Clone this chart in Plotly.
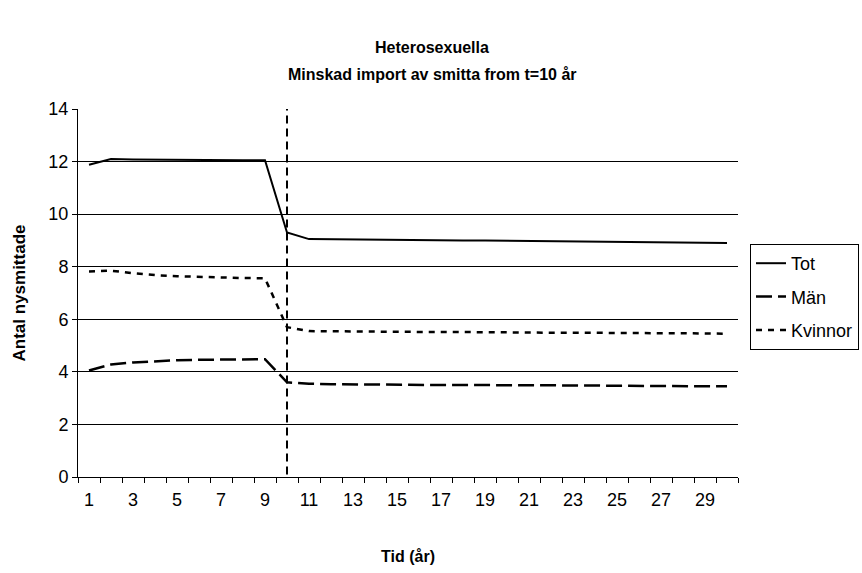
import plotly.graph_objects as go

years = list(range(1, 31))
tot = [11.88, 12.1, 12.08, 12.07, 12.06, 12.05, 12.05, 12.05, 12.05, 9.3,
       9.05, 9.04, 9.04, 9.03, 9.02, 9.02, 9.01, 9.0, 9.0, 8.99,
       8.98, 8.98, 8.97, 8.96, 8.96, 8.95, 8.94, 8.93, 8.92, 8.9]
man = [4.05, 4.28, 4.36, 4.41, 4.44, 4.46, 4.47, 4.48, 4.48, 3.6,
       3.55, 3.53, 3.52, 3.52, 3.51, 3.51, 3.5, 3.5, 3.5, 3.49,
       3.49, 3.48, 3.48, 3.48, 3.47, 3.47, 3.46, 3.46, 3.46, 3.45]
kvinnor = [7.82, 7.85, 7.75, 7.68, 7.64, 7.61, 7.58, 7.57, 7.56, 5.7,
           5.55, 5.54, 5.54, 5.53, 5.53, 5.52, 5.52, 5.51, 5.51, 5.5,
           5.5, 5.49, 5.49, 5.48, 5.48, 5.48, 5.47, 5.47, 5.46, 5.45]
xtick_vals = list(range(1, 30, 2))
ytick_vals = list(range(0, 15, 2))
cut_year = 10

font = "Liberation Sans, Arial, sans-serif"

fig = go.Figure()
fig.add_trace(go.Scatter(x=years, y=tot, mode="lines", name="Tot", legendgroup="a",
                         line=dict(color="black", width=2)))
fig.add_trace(go.Scatter(x=years, y=man, mode="lines", name="Män", legendgroup="b",
                         line=dict(color="black", width=2.5, dash="16px,6px")))
fig.add_trace(go.Scatter(x=years, y=kvinnor, mode="lines", name="Kvinnor", legendgroup="c",
                         line=dict(color="black", width=2.5, dash="6px,6px")))

fig.add_shape(type="line", xref="x", yref="y", x0=cut_year, x1=cut_year,
              y0=-0.4, y1=14.15, line=dict(color="black", width=2, dash="8px,5px"))

fig.add_annotation(text="<b>Heterosexuella</b>", xref="paper", yref="paper",
                   x=(432 - 78) / 660, y=(477 - 47) / 368, showarrow=False,
                   font=dict(family=font, size=16, color="black"), yanchor="middle")
fig.add_annotation(text="<b>Minskad import av smitta from t=10 år</b>", xref="paper", yref="paper",
                   x=(432 - 78) / 660, y=(477 - 75) / 368, showarrow=False,
                   font=dict(family=font, size=16, color="black"), yanchor="middle")

fig.update_layout(
    width=862, height=573,
    margin=dict(l=78, r=124, t=109, b=96, autoexpand=False),
    plot_bgcolor="white", paper_bgcolor="white",
    font=dict(family=font, size=18, color="black"),
    showlegend=True,
    legend=dict(x=(750 - 78) / 660, y=(477 - 244) / 368, xanchor="left", yanchor="top",
                bordercolor="black", borderwidth=1, bgcolor="white",
                font=dict(size=18), tracegroupgap=7, itemwidth=30),
    xaxis=dict(range=[0.5, 30.5], tickmode="array", tickvals=xtick_vals,
               ticks="", showgrid=False, zeroline=False,
               showline=True, linecolor="black", linewidth=1,
               tickfont=dict(size=18), ticklabelstandoff=6,
               minor=dict(tick0=0.5, dtick=1, ticks="outside", ticklen=5,
                          tickcolor="black", showgrid=False),
               title=dict(text="<b>Tid (år)</b>", font=dict(size=16), standoff=42)),
    yaxis=dict(range=[0, 14], tickmode="array", tickvals=ytick_vals,
               ticks="outside", ticklen=5, tickcolor="black",
               showgrid=True, gridcolor="black", gridwidth=1, zeroline=False,
               showline=True, linecolor="black", linewidth=1,
               tickfont=dict(size=18),
               title=dict(text="<b>Antal nysmittade</b>", font=dict(size=17), standoff=18)),
)

fig.write_html("out.html")
